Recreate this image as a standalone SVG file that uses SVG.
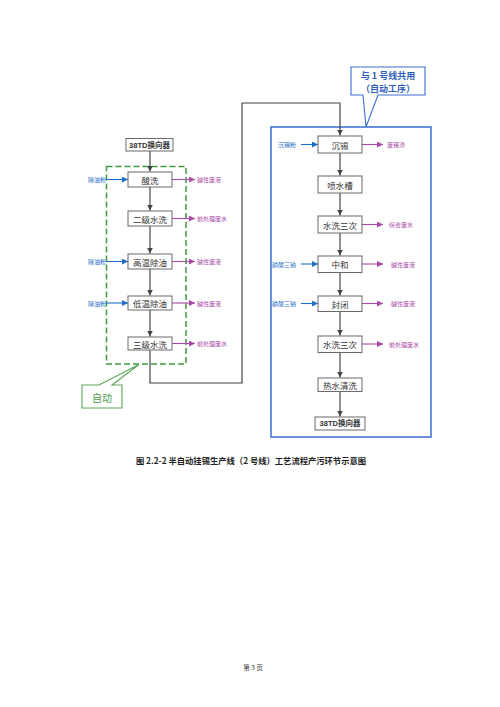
<svg xmlns="http://www.w3.org/2000/svg" width="500" height="707" viewBox="0 0 500 707">
<defs>
<marker id="ag" viewBox="0 0 10 10" refX="10" refY="5" markerWidth="6" markerHeight="6" orient="auto" markerUnits="userSpaceOnUse"><path d="M0,0 L10,5 L0,10 z" fill="#454545"/></marker>
<marker id="ab" viewBox="0 0 10 10" refX="10" refY="5" markerWidth="6" markerHeight="6" orient="auto" markerUnits="userSpaceOnUse"><path d="M0,0 L10,5 L0,10 z" fill="#1f6fc8"/></marker>
<marker id="ap" viewBox="0 0 10 10" refX="10" refY="5" markerWidth="6" markerHeight="6" orient="auto" markerUnits="userSpaceOnUse"><path d="M0,0 L10,5 L0,10 z" fill="#a84aa6"/></marker>
</defs>
<style>
.box{fill:#fff;stroke:#6a6a6a;stroke-width:1}
.t{font-family:"Noto Sans CJK SC","Liberation Serif",sans-serif;font-size:8.5px;fill:#333;text-anchor:middle;dominant-baseline:central}
.tb{font-family:"Liberation Sans","Noto Sans CJK SC",sans-serif;font-size:7.5px;font-weight:bold;fill:#333;text-anchor:middle;dominant-baseline:central}
.lb{font-family:"Noto Sans CJK SC",sans-serif;font-size:6px;fill:#1f6fc8;dominant-baseline:central}
.lp{font-family:"Noto Sans CJK SC",sans-serif;font-size:6px;fill:#a84aa6;dominant-baseline:central}
.cg{fill:none;stroke:#454545;stroke-width:1.2}
.cb{fill:none;stroke:#1f6fc8;stroke-width:1.1}
.cp{fill:none;stroke:#a84aa6;stroke-width:1.1}
</style>
<rect width="500" height="707" fill="#fff"/>
<!-- left green dashed region -->
<rect x="106.5" y="166.5" width="79.5" height="197.5" fill="none" stroke="#3e9a42" stroke-width="1.5" stroke-dasharray="6,3"/>
<!-- right blue region -->
<rect x="271" y="127" width="160" height="310" fill="none" stroke="#3a6fd0" stroke-width="1.5"/>

<g id="connectors">
<path class="cg" d="M150,151 V171.5" marker-end="url(#ag)"/>
<path class="cg" d="M150,187 V210.5" marker-end="url(#ag)"/>
<path class="cg" d="M150,226 V253.5" marker-end="url(#ag)"/>
<path class="cg" d="M150,269 V295.5" marker-end="url(#ag)"/>
<path class="cg" d="M150,310 V336.5" marker-end="url(#ag)"/>
<path class="cg" d="M150,350 V383 H242 V103 H340 V135.5" marker-end="url(#ag)"/>
<path class="cg" d="M340,153 V175.5" marker-end="url(#ag)"/>
<path class="cg" d="M340,193 V215.5" marker-end="url(#ag)"/>
<path class="cg" d="M340,233 V255.5" marker-end="url(#ag)"/>
<path class="cg" d="M340,272.5 V295.5" marker-end="url(#ag)"/>
<path class="cg" d="M340,311.5 V335.5" marker-end="url(#ag)"/>
<path class="cg" d="M340,352.5 V377.5" marker-end="url(#ag)"/>
<path class="cg" d="M340,391.5 V416.5" marker-end="url(#ag)"/>
<!-- inputs -->
<path class="cb" d="M106,179.5 H128" marker-end="url(#ab)"/>
<path class="cb" d="M106,261.5 H128" marker-end="url(#ab)"/>
<path class="cb" d="M106,303 H128" marker-end="url(#ab)"/>
<path class="cb" d="M301,144.5 H318" marker-end="url(#ab)"/>
<path class="cb" d="M301,264 H318" marker-end="url(#ab)"/>
<path class="cb" d="M301,303.5 H318" marker-end="url(#ab)"/>
<!-- outputs -->
<path class="cp" d="M172,179.5 H195" marker-end="url(#ap)"/>
<path class="cp" d="M172,218.5 H195" marker-end="url(#ap)"/>
<path class="cp" d="M172,261.5 H195" marker-end="url(#ap)"/>
<path class="cp" d="M172,303 H195" marker-end="url(#ap)"/>
<path class="cp" d="M172,343.5 H195" marker-end="url(#ap)"/>
<path class="cp" d="M362,144.5 H383" marker-end="url(#ap)"/>
<path class="cp" d="M362,224.5 H383" marker-end="url(#ap)"/>
<path class="cp" d="M362,264 H383" marker-end="url(#ap)"/>
<path class="cp" d="M362,303.5 H383" marker-end="url(#ap)"/>
<path class="cp" d="M362,344 H383" marker-end="url(#ap)"/>
</g>

<g id="n_38td_a"><rect class="box" x="126" y="138.5" width="47" height="12.5"/><text class="tb" x="149.5" y="145">38TD换向器</text></g>
<g id="n_suanxi"><rect class="box" x="128" y="172" width="44" height="15"/><text class="t" x="150" y="179.5">酸洗</text></g>
<g id="n_erji"><rect class="box" x="128" y="211" width="44" height="15"/><text class="t" x="150" y="218.5">二级水洗</text></g>
<g id="n_gaowen"><rect class="box" x="128" y="254" width="44" height="15"/><text class="t" x="150" y="261.5">高温除油</text></g>
<g id="n_diwen"><rect class="box" x="128" y="296" width="44" height="14"/><text class="t" x="150" y="303">低温除油</text></g>
<g id="n_sanji"><rect class="box" x="128" y="337" width="44" height="13"/><text class="t" x="150" y="343.5">三级水洗</text></g>

<g id="n_chenxi"><rect class="box" x="318" y="136" width="44" height="17"/><text class="t" x="340" y="144.5">沉锡</text></g>
<g id="n_penshui"><rect class="box" x="318" y="176" width="44" height="17"/><text class="t" x="340" y="184.5">喷水槽</text></g>
<g id="n_shuixi1"><rect class="box" x="318" y="216" width="44" height="17"/><text class="t" x="340" y="224.5">水洗三次</text></g>
<g id="n_zhonghe"><rect class="box" x="318" y="256" width="44" height="16.5"/><text class="t" x="340" y="264">中和</text></g>
<g id="n_fengbi"><rect class="box" x="318" y="296" width="44" height="15.5"/><text class="t" x="340" y="303.5">封闭</text></g>
<g id="n_shuixi2"><rect class="box" x="318" y="336" width="44" height="16.5"/><text class="t" x="340" y="344">水洗三次</text></g>
<g id="n_reshui"><rect class="box" x="318" y="378" width="44" height="13.5"/><text class="t" x="340" y="384.7">热水清洗</text></g>
<g id="n_38td_b"><rect class="box" x="315" y="417" width="50" height="13"/><text class="tb" x="340" y="423.5">38TD换向器</text></g>

<g id="labels">
<text class="lb" x="88" y="179.5">除油粉</text>
<text class="lb" x="88" y="261.5">除油粉</text>
<text class="lb" x="88" y="303">除油粉</text>
<text class="lp" x="197" y="179.5">碱性废液</text>
<text class="lp" x="197" y="218.5">前处理废水</text>
<text class="lp" x="197" y="261.5">碱性废液</text>
<text class="lp" x="197" y="303">碱性废液</text>
<text class="lp" x="197" y="343.5">前处理废水</text>
<text class="lb" x="278" y="144.5">沉锡粉</text>
<text class="lb" x="272" y="264">磷酸三钠</text>
<text class="lb" x="272" y="303.5">磷酸三钠</text>
<text class="lp" x="387" y="144.5">废锡渣</text>
<text class="lp" x="389" y="224.5">综合废水</text>
<text class="lp" x="391" y="264">碱性废液</text>
<text class="lp" x="391" y="303.5">碱性废液</text>
<text class="lp" x="389" y="344">前处理废水</text>
</g>

<g id="callout_auto">
<path d="M82,385 H99 L139,364.5 L112,385 H122 V408 H82 Z" fill="#fff" stroke="#5aa85a" stroke-width="1.1"/>
<text x="102" y="397" style="font-family:'Noto Sans CJK SC',sans-serif;font-size:10px;fill:#4a9a4a;text-anchor:middle;dominant-baseline:central">自动</text>
</g>
<g id="callout_shared">
<path d="M351,67 H425 V95 H378 L366,127 L363,95 H351 Z" fill="#fff" stroke="#3a6fd0" stroke-width="1.1"/>
<text x="388" y="75" style="font-family:'Noto Sans CJK SC',sans-serif;font-size:9px;font-weight:bold;fill:#2f5fb8;text-anchor:middle;dominant-baseline:central">与 1 号线共用</text>
<text x="388" y="88" style="font-family:'Noto Sans CJK SC',sans-serif;font-size:9px;font-weight:bold;fill:#2f5fb8;text-anchor:middle;dominant-baseline:central">（自动工序）</text>
</g>

<text x="251" y="460" style="font-family:'Noto Sans CJK SC',sans-serif;font-size:8.3px;font-weight:bold;fill:#222;text-anchor:middle;dominant-baseline:central">图 2.2-2 半自动挂锡生产线（2 号线）工艺流程产污环节示意图</text>
<text x="253" y="667" style="font-family:'Noto Sans CJK SC',sans-serif;font-size:6.5px;fill:#333;text-anchor:middle;dominant-baseline:central">第 3 页</text>
</svg>
